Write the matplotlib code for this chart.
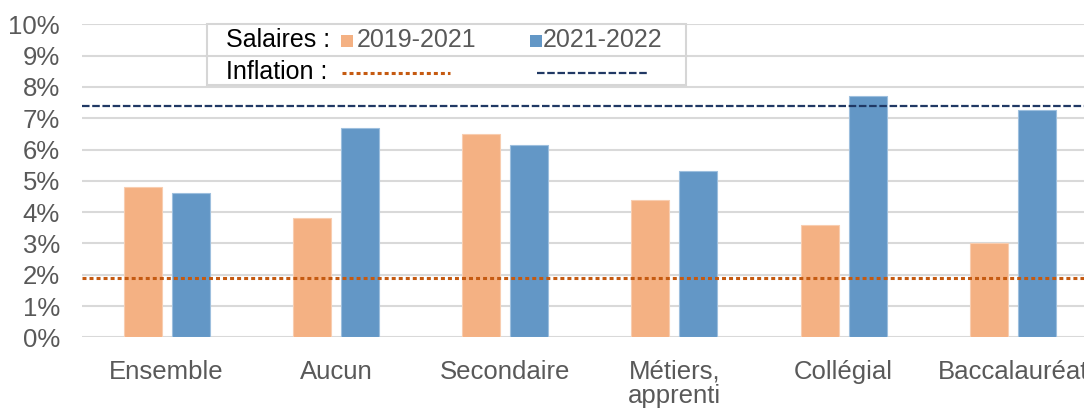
import matplotlib
matplotlib.use("Agg")
import matplotlib.pyplot as plt
import numpy as np
from matplotlib.patches import Rectangle
from matplotlib.lines import Line2D

plt.rcParams['font.family'] = ['Liberation Sans', 'DejaVu Sans']

# salary growth by education level (%)
categories = ["Ensemble", "Aucun", "Secondaire", "Métiers,\napprenti", "Collégial", "Baccalauréat"]
sal_2019_2021 = [4.8, 3.8, 6.5, 4.4, 3.6, 3.0]
sal_2021_2022 = [4.6, 6.7, 6.15, 5.3, 7.7, 7.25]
infl_2019_2021 = 1.9
infl_2021_2022 = 7.4
yticks = list(range(0, 11))

orange = '#F4B183'
blue = '#6397C6'
infl_orange = '#C55A11'
infl_blue = '#203864'
grey_txt = '#595959'
grid_col = '#D9D9D9'

W, H = 1084, 409
fig = plt.figure(figsize=(W / 100, H / 100), dpi=100)
ax = fig.add_axes([82 / W, 1 - 337.3 / H, 1015.5 / W, 313 / H])

x = np.arange(len(categories))
bw = 0.225
off = 0.142
ax.bar(x - off, sal_2019_2021, bw, color=orange, edgecolor='#F8CDB0', linewidth=0.8, zorder=2)
ax.bar(x + off, sal_2021_2022, bw, color=blue, edgecolor='#9DBFDE', linewidth=0.8, zorder=2)

ax.axhline(infl_2019_2021, color=infl_orange, lw=2.2, linestyle=(0, (1.3, 1.0)), zorder=3)
ax.axhline(infl_2021_2022, color=infl_blue, lw=1.6, linestyle=(0, (3.4, 1.2)), zorder=3)

ax.set_xlim(-0.5, len(categories) - 0.5)
ax.set_ylim(0, 10)
ax.set_yticks(yticks)
ax.set_yticklabels([f"{v}%" for v in yticks])
ax.set_xticks(x)
ax.set_xticklabels(categories, linespacing=1.05)
ax.yaxis.grid(True, color=grid_col, lw=1.5, zorder=0)
ax.set_axisbelow(True)
for s in ax.spines.values():
    s.set_visible(False)
ax.tick_params(axis='both', length=0, labelsize=18.5, colors=grey_txt)
ax.tick_params(axis='x', pad=16)
ax.tick_params(axis='y', pad=16)


def fx(px):
    return px / W


def fy(py):
    return 1 - py / H


# legend table drawn in figure pixels
box = Rectangle((fx(207), fy(84.5)), (686 - 207) / W, (84.5 - 23.5) / H,
                transform=fig.transFigure, facecolor='white', edgecolor='#D6D6D6',
                lw=1.5, zorder=5)
fig.add_artist(box)
fig.add_artist(Line2D([fx(207), fx(686)], [fy(56), fy(56)], transform=fig.transFigure,
                      color='#D6D6D6', lw=1.5, zorder=6))

fs = 18
fig.text(fx(226), fy(47), "Salaires :", fontsize=fs, color='black', va='baseline', zorder=7)
fig.text(fx(226), fy(79), "Inflation :", fontsize=fs, color='black', va='baseline', zorder=7)
fig.add_artist(Rectangle((fx(341), fy(47)), 12 / W, 12 / H, transform=fig.transFigure,
                         facecolor=orange, edgecolor='none', zorder=7))
fig.add_artist(Rectangle((fx(530), fy(47)), 12 / W, 12 / H, transform=fig.transFigure,
                         facecolor=blue, edgecolor='none', zorder=7))
fig.text(fx(357), fy(47), "2019-2021", fontsize=fs, color=grey_txt, va='baseline', zorder=7)
fig.text(fx(543), fy(47), "2021-2022", fontsize=fs, color=grey_txt, va='baseline', zorder=7)
fig.add_artist(Line2D([fx(342), fx(450)], [fy(73.3), fy(73.3)], transform=fig.transFigure,
                      color=infl_orange, lw=2.2, linestyle=(0, (1.3, 1.0)), zorder=7))
fig.add_artist(Line2D([fx(537), fx(647)], [fy(73.3), fy(73.3)], transform=fig.transFigure,
                      color=infl_blue, lw=1.6, linestyle=(0, (3.4, 1.2)), zorder=7))

fig.savefig("out.png", dpi=100)
